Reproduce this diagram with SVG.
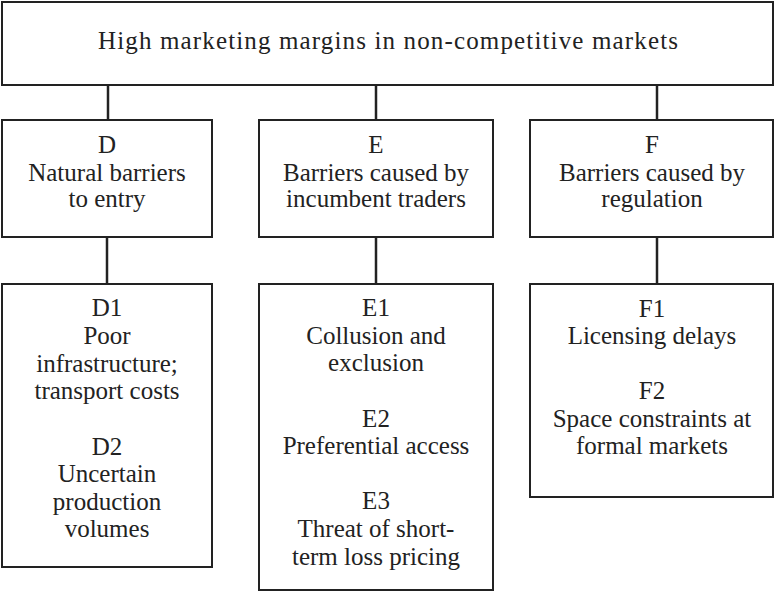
<svg xmlns="http://www.w3.org/2000/svg" width="775" height="592" viewBox="0 0 775 592">
<style>
.box{fill:#fff;stroke:#222;stroke-width:2}
.ln{stroke:#222;stroke-width:2.5;fill:none}
text{font-family:"Liberation Serif","Times New Roman",serif;font-size:25px;fill:#222;text-anchor:middle}
</style>
<rect width="775" height="592" fill="#fff"/>
<g id="connectors">
<line class="ln" x1="108" y1="85" x2="108" y2="120"/>
<line class="ln" x1="376" y1="85" x2="376" y2="120"/>
<line class="ln" x1="657" y1="85" x2="657" y2="120"/>
<line class="ln" x1="107" y1="237" x2="107" y2="284"/>
<line class="ln" x1="376" y1="237" x2="376" y2="284"/>
<line class="ln" x1="657" y1="237" x2="657" y2="284"/>
</g>
<g id="top">
<rect class="box" x="2" y="2" width="771" height="83"/>
<text x="388" y="49" textLength="580" lengthAdjust="spacing">High marketing margins in non-competitive markets</text>
</g>
<g id="D">
<rect class="box" x="2" y="120" width="210" height="117"/>
<text x="107" y="153">D</text>
<text x="107" y="181">Natural barriers</text>
<text x="107" y="207">to entry</text>
</g>
<g id="E">
<rect class="box" x="259" y="120" width="234" height="117"/>
<text x="376" y="153">E</text>
<text x="376" y="181">Barriers caused by</text>
<text x="376" y="207">incumbent traders</text>
</g>
<g id="F">
<rect class="box" x="530" y="120" width="243" height="117"/>
<text x="652" y="153">F</text>
<text x="652" y="181">Barriers caused by</text>
<text x="652" y="207">regulation</text>
</g>
<g id="D12">
<rect class="box" x="2" y="284" width="210" height="283"/>
<text x="107" y="316">D1</text>
<text x="107" y="344">Poor</text>
<text x="107" y="372">infrastructure;</text>
<text x="107" y="399">transport costs</text>
<text x="107" y="455">D2</text>
<text x="107" y="482">Uncertain</text>
<text x="107" y="510">production</text>
<text x="107" y="537">volumes</text>
</g>
<g id="E123">
<rect class="box" x="259" y="284" width="234" height="306"/>
<text x="376" y="316">E1</text>
<text x="376" y="344">Collusion and</text>
<text x="376" y="371">exclusion</text>
<text x="376" y="427">E2</text>
<text x="376" y="454">Preferential access</text>
<text x="376" y="509">E3</text>
<text x="376" y="537">Threat of short-</text>
<text x="376" y="565">term loss pricing</text>
</g>
<g id="F12">
<rect class="box" x="530" y="284" width="243" height="213"/>
<text x="652" y="317">F1</text>
<text x="652" y="344">Licensing delays</text>
<text x="652" y="399">F2</text>
<text x="652" y="427">Space constraints at</text>
<text x="652" y="454">formal markets</text>
</g>
</svg>
